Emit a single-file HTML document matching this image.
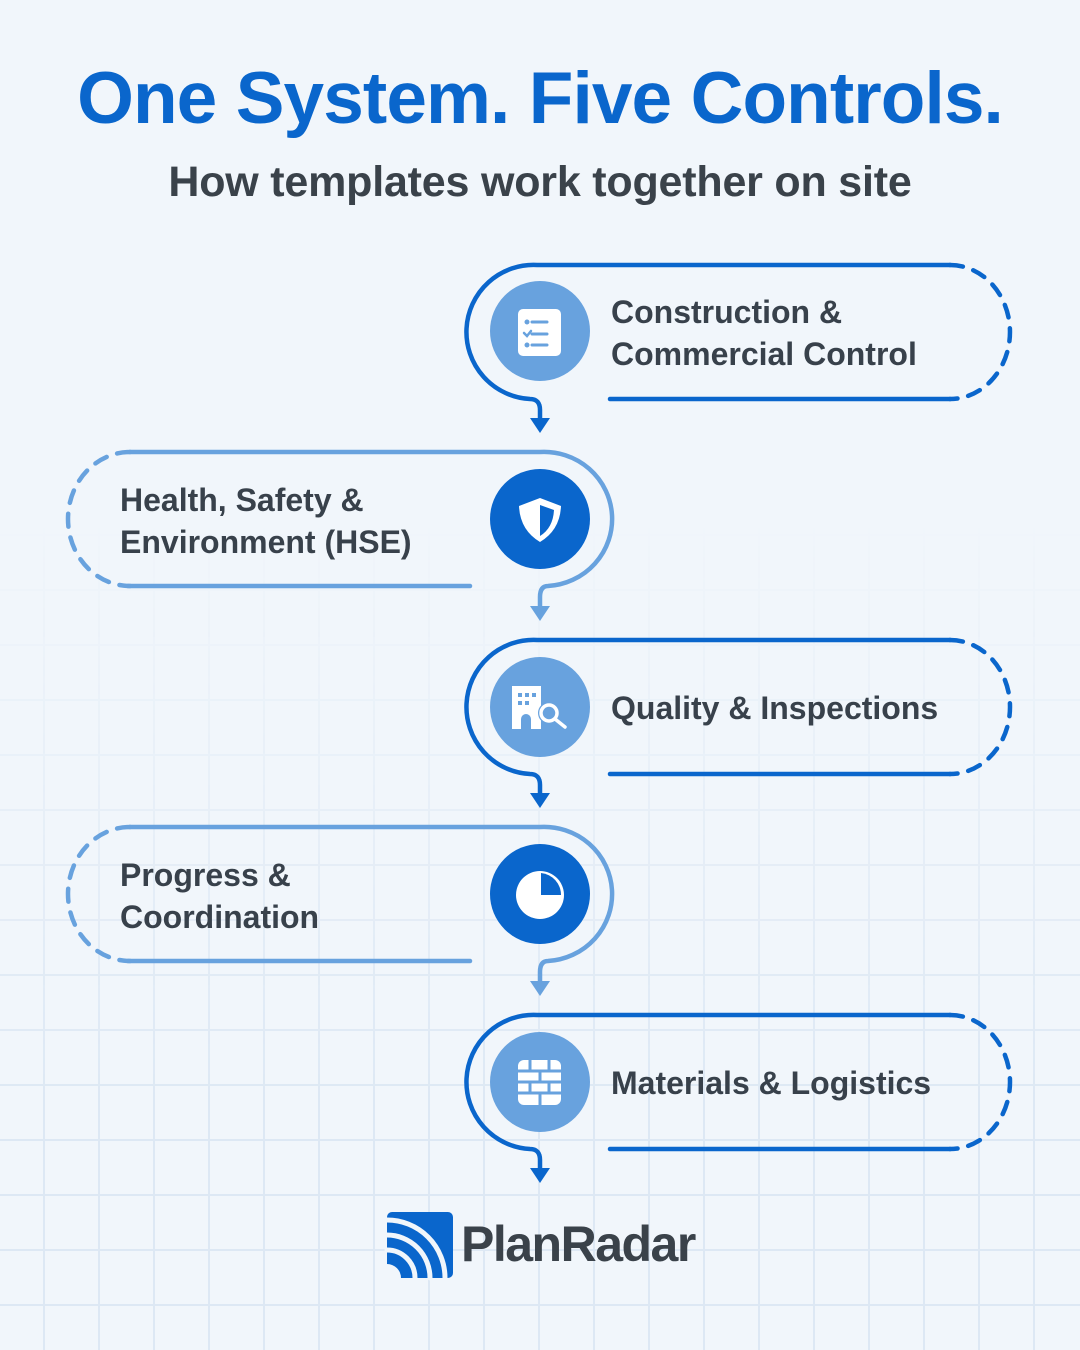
<!DOCTYPE html>
<html><head><meta charset="utf-8"><style>
body{margin:0;width:1080px;height:1350px;background:#f1f6fb;font-family:"Liberation Sans",sans-serif;overflow:hidden;position:relative}
.grid{position:absolute;inset:0;background-image:linear-gradient(to right,#dde8f4 2px,transparent 2px),linear-gradient(to bottom,#dde8f4 2px,transparent 2px);background-size:55px 55px;background-position:43px 39px;-webkit-mask-image:linear-gradient(to bottom,transparent 0,transparent 520px,#000 1100px);mask-image:linear-gradient(to bottom,transparent 0,transparent 520px,#000 1100px)}
h1{position:absolute;top:57px;left:0;width:1080px;text-align:center;margin:0;font-size:73px;font-weight:bold;color:#0a66cc;letter-spacing:-0.9px}
h2{position:absolute;top:158px;left:0;width:1080px;text-align:center;margin:0;font-size:43px;font-weight:bold;color:#3a424a;letter-spacing:-0.2px}
.t{position:absolute;font-size:32px;font-weight:bold;color:#38414b;line-height:42px}
</style></head><body>
<div class="grid"></div>
<h1>One System. Five Controls.</h1>
<h2>How templates work together on site</h2>
<svg width="1080" height="1350" style="position:absolute;left:0;top:0" fill="none" stroke-linecap="round">
<g stroke="#0a66cc" stroke-width="4.5">
<path d="M950 265 H537 A67 67 0 0 0 530 399 Q540 399 540 410 V418"/>
<path d="M950 265 A60 67 0 0 1 950 399" stroke-dasharray="13 11"/>
<path d="M610 399 H950"/>
</g>
<polygon points="530,418 550,418 540,433" fill="#0a66cc"/>
<circle cx="540" cy="331" r="50" fill="#68a2de"/>
<g stroke="#68a2de" stroke-width="4.5">
<path d="M130 452 H540 A68 67 0 0 1 548 586 Q540 586 540 597 V606"/>
<path d="M130 452 A62 67 0 0 0 130 586" stroke-dasharray="13 11"/>
<path d="M128 586 H470"/>
</g>
<polygon points="530,606 550,606 540,621" fill="#68a2de"/>
<circle cx="540" cy="519" r="50" fill="#0a66cc"/>
<g stroke="#0a66cc" stroke-width="4.5">
<path d="M950 640 H537 A67 67 0 0 0 530 774 Q540 774 540 785 V793"/>
<path d="M950 640 A60 67 0 0 1 950 774" stroke-dasharray="13 11"/>
<path d="M610 774 H950"/>
</g>
<polygon points="530,793 550,793 540,808" fill="#0a66cc"/>
<circle cx="540" cy="707" r="50" fill="#68a2de"/>
<g stroke="#68a2de" stroke-width="4.5">
<path d="M130 827 H540 A68 67 0 0 1 548 961 Q540 961 540 972 V981"/>
<path d="M130 827 A62 67 0 0 0 130 961" stroke-dasharray="13 11"/>
<path d="M128 961 H470"/>
</g>
<polygon points="530,981 550,981 540,996" fill="#68a2de"/>
<circle cx="540" cy="894" r="50" fill="#0a66cc"/>
<g stroke="#0a66cc" stroke-width="4.5">
<path d="M950 1015 H537 A67 67 0 0 0 530 1149 Q540 1149 540 1160 V1168"/>
<path d="M950 1015 A60 67 0 0 1 950 1149" stroke-dasharray="13 11"/>
<path d="M610 1149 H950"/>
</g>
<polygon points="530,1168 550,1168 540,1183" fill="#0a66cc"/>
<circle cx="540" cy="1082" r="50" fill="#68a2de"/>
<rect x="518" y="309" width="43" height="47" rx="5" fill="#fff"/>
<g stroke="#68a2de" stroke-width="3"><path d="M532 322H547M532 334H547M532 345H547"/><path d="M524 333l3 3 4-5" stroke-width="2.5"/></g>
<g fill="#68a2de"><circle cx="527" cy="322" r="2.5"/><circle cx="527" cy="345" r="2.5"/></g>
<path d="M540 498 L561 506 Q560 530 540 542 Q520 530 519 506 Z" fill="#fff"/>
<path d="M540 505 L554 510 Q553 528 540 536 Z" fill="#0a66cc"/>
<path d="M512 686 H541 V729 H512 Z" fill="#fff"/>
<g fill="#68a2de"><rect x="518" y="693" width="4" height="4"/><rect x="525" y="693" width="4" height="4"/><rect x="532" y="693" width="4" height="4"/><rect x="518" y="701" width="4" height="4"/><rect x="525" y="701" width="4" height="4"/><path d="M521 729v-10a5 5 0 0 1 10 0v10z"/></g>
<circle cx="549" cy="713" r="11" fill="#68a2de"/>
<circle cx="549" cy="713" r="8" stroke="#fff" stroke-width="3.5"/>
<path d="M555 719 L565 727" stroke="#fff" stroke-width="3.5"/>
<circle cx="540" cy="895" r="24" fill="#fff"/>
<path d="M541 873 A22 22 0 0 1 561 895 H541 Z" fill="#0a66cc"/>
<rect x="518" y="1060" width="43" height="45" rx="6" fill="#fff"/>
<g stroke="#68a2de" stroke-width="3"><path d="M518 1071H561M518 1082H561M518 1093H561M530 1060V1071M549 1060V1071M540 1071V1082M530 1082V1093M549 1082V1093M540 1093V1105"/></g>
<rect x="387" y="1212" width="66" height="66" rx="5" fill="#0a66cc"/>
<g stroke="#f1f6fb" stroke-width="5">
<path d="M387 1220 A58 58 0 0 1 445 1278"/>
<path d="M387 1235 A43 43 0 0 1 430 1278"/>
<path d="M387 1250 A28 28 0 0 1 415 1278"/>
</g>
<path d="M387 1264 A14 14 0 0 1 401 1278 H387 Z" fill="#f1f6fb"/>
</svg>
<div class="t" style="left:611px;top:291px">Construction &amp;<br>Commercial Control</div>
<div class="t" style="left:120px;top:479px">Health, Safety &amp;<br>Environment (HSE)</div>
<div class="t" style="left:611px;top:687px">Quality &amp; Inspections</div>
<div class="t" style="left:120px;top:854px">Progress &amp;<br>Coordination</div>
<div class="t" style="left:611px;top:1062px">Materials &amp; Logistics</div>
<div style="position:absolute;left:461px;top:1214px;font-size:50px;font-weight:bold;color:#3a424a;letter-spacing:-1.5px;line-height:60px">PlanRadar</div>
</body></html>
